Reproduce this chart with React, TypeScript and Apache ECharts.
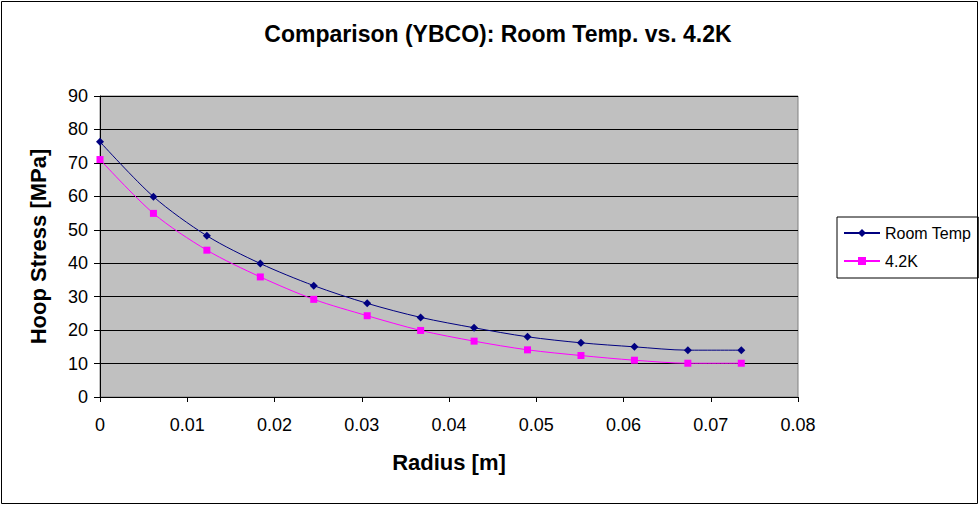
import React, { useEffect, useRef } from "react";
import * as echarts from "echarts";

const radius = [0, 0.006125, 0.01225, 0.018375, 0.0245, 0.030625, 0.03675, 0.042875, 0.049, 0.055125, 0.06125, 0.067375, 0.0735];
const roomTemp = [76.3, 59.9, 48.2, 39.9, 33.3, 28.0, 23.8, 20.7, 18.0, 16.2, 15.0, 14.0, 14.0];
const k42 = [71.0, 54.9, 43.9, 35.9, 29.2, 24.3, 19.9, 16.7, 14.1, 12.4, 11.0, 10.1, 10.1];
const xTicks = [0, 0.01, 0.02, 0.03, 0.04, 0.05, 0.06, 0.07, 0.08];

const FONT = "'Liberation Sans', Arial, sans-serif";

export default function App() {
  const ref = useRef<HTMLDivElement>(null);
  useEffect(() => {
    document.body.style.margin = "0";
    const chart = echarts.init(ref.current!, null, { renderer: "svg" });
    chart.setOption({
      animation: false,
      backgroundColor: "#ffffff",
      textStyle: { fontFamily: FONT },
      title: {
        text: "Comparison (YBCO): Room Temp. vs. 4.2K",
        left: 493,
        textAlign: "center",
        top: 17,
        textStyle: { fontFamily: FONT, fontSize: 23, fontWeight: "bold", color: "#000" },
      },
      graphic: [
        {
          type: "rect",
          shape: { x: 1.5, y: 1.5, width: 976, height: 502 },
          style: { fill: "none", stroke: "#000", lineWidth: 1 },
          silent: true,
        },
      ],
      legend: {
        orient: "vertical",
        left: 837,
        top: 217,
        itemGap: 12,
        itemWidth: 36,
        itemHeight: 10,
        padding: [8, 7, 9, 6],
        borderColor: "#000",
        borderWidth: 1,
        textStyle: { fontFamily: FONT, fontSize: 16, color: "#000" },
        data: ["Room Temp", "4.2K"],
      },
      grid: { left: 100, top: 96, width: 698, height: 301, show: true, backgroundColor: "#C0C0C0", borderColor: "#808080", borderWidth: 1 },
      xAxis: {
        type: "value",
        min: 0,
        max: 0.08,
        interval: 0.01,
        name: "Radius [m]",
        nameLocation: "middle",
        nameGap: 54,
        nameTextStyle: { fontFamily: FONT, fontSize: 22, fontWeight: "bold", color: "#000" },
        axisLine: { show: true, onZero: false, lineStyle: { color: "#000", width: 1 } },
        axisTick: { show: true, length: 5, lineStyle: { color: "#000" } },
        axisLabel: {
          fontFamily: FONT,
          fontSize: 18,
          color: "#000",
          margin: 19,
          formatter: (v: number) => {
            const t = xTicks.find((x) => Math.abs(x - v) < 1e-9);
            return t === undefined ? "" : String(Number(t.toFixed(2)));
          },
        },
        splitLine: { show: false },
      },
      yAxis: {
        type: "value",
        min: 0,
        max: 90,
        interval: 10,
        name: "Hoop Stress [MPa]",
        nameLocation: "middle",
        nameGap: 51,
        nameTextStyle: { fontFamily: FONT, fontSize: 22, fontWeight: "bold", color: "#000" },
        axisLine: { show: true, lineStyle: { color: "#000", width: 1 } },
        axisTick: { show: true, length: 6, lineStyle: { color: "#000" } },
        axisLabel: { fontFamily: FONT, fontSize: 18, color: "#000", margin: 12 },
        splitLine: { show: true, lineStyle: { color: "#000", width: 1 } },
      },
      series: [
        {
          name: "Room Temp",
          type: "line",
          smooth: 0.3,
          data: radius.map((r, i) => [r, roomTemp[i]]),
          symbol: "diamond",
          symbolSize: 8,
          itemStyle: { color: "#000080" },
          lineStyle: { color: "#000080", width: 1 },
          z: 3,
        },
        {
          name: "4.2K",
          type: "line",
          smooth: 0.3,
          data: radius.map((r, i) => [r, k42[i]]),
          symbol: "rect",
          symbolSize: 7,
          itemStyle: { color: "#FF00FF" },
          lineStyle: { color: "#FF00FF", width: 1 },
          z: 2,
        },
      ],
    });
    return () => chart.dispose();
  }, []);
  return <div ref={ref} style={{ width: 979, height: 505 }} />;
}
